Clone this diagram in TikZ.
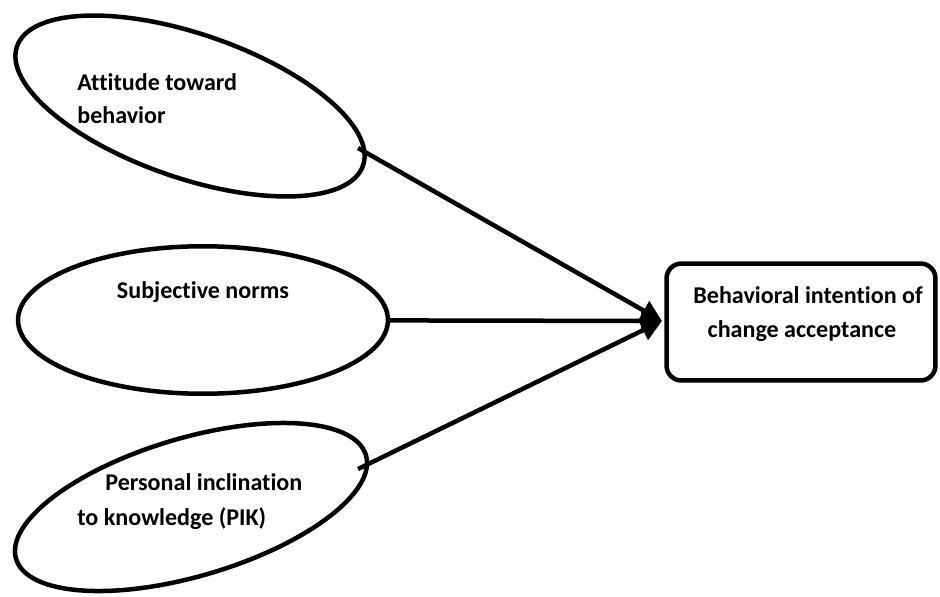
\documentclass[tikz,border=0pt]{standalone}
\usepackage{fontspec}
\setmainfont{Carlito}[Ligatures={NoCommon}]
\usetikzlibrary{shapes.geometric, arrows.meta, positioning}

\begin{document}
\begin{tikzpicture}[
  x = 0.02cm, y = -0.02cm,
  construct/.style = {ellipse, draw=black, line width=0.09cm, inner sep=0pt},
  outcome/.style   = {rectangle, rounded corners=0.3cm, draw=black, line width=0.09cm,
                      minimum width=5.38cm, minimum height=2.34cm},
  lbl/.style       = {anchor=base west, inner sep=0pt,
                      font=\fontsize{13.7}{16}\selectfont\bfseries},
  link/.style      = {-{Triangle[length=0.42cm, width=0.42cm]}, line width=0.09cm},
]
\useasboundingbox (0,0) rectangle (940,596);

%% -- Constructs (left) -----------------------------------------
\node[construct, rotate=-19, minimum width=7.32cm, minimum height=2.88cm] (atb) at (190,106) {};
\node[lbl] (atb-l1) at (77,90)  {Attitude toward};
\node[lbl] (atb-l2) at (77,123) {behavior};

\node[construct, minimum width=7.4cm, minimum height=2.95cm] (sn) at (203,320) {};
\node[lbl, anchor=base] (sn-l1) at (203,298) {Subjective norms};

\node[construct, rotate=16.5, minimum width=7.3cm, minimum height=2.76cm] (pik) at (191,507) {};
\node[lbl] (pik-l1) at (105,490) {Personal inclination};
\node[lbl] (pik-l2) at (77,525)  {to knowledge (PIK)};

%% -- Outcome (right) -------------------------------------------
\node[outcome] (bic) at (801,322) {};
\node[lbl, anchor=base] (bic-l1) at (808,303) {Behavioral intention of};
\node[lbl, anchor=base] (bic-l2) at (802,337) {change acceptance};

%% -- Arrows ----------------------------------------------------
\coordinate (atb-out) at (358,148);
\coordinate (pik-out) at (358,469);
\coordinate (tip)     at (662,321);

\draw[link] (atb-out) -- (tip);
\draw[link] (sn)      -- (tip);
\draw[link] (pik-out) -- (tip);

\end{tikzpicture}
\end{document}
